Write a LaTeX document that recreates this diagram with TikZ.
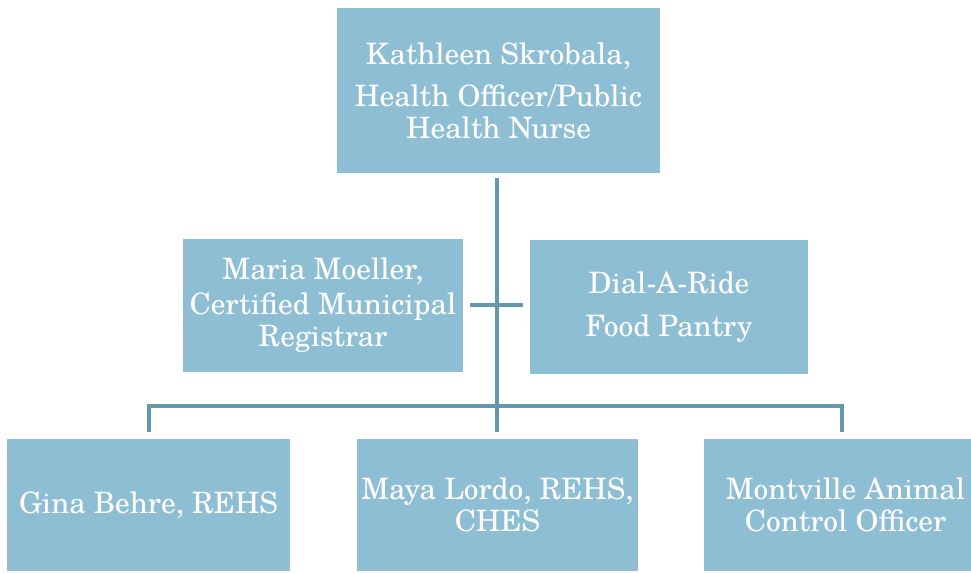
\documentclass[tikz,border=0pt]{standalone}
\usepackage{fontspec}
\setmainfont{TeX Gyre Schola}
\definecolor{boxblue}{RGB}{142,190,211}
\definecolor{lineblue}{RGB}{100,152,172}
\begin{document}
\begin{tikzpicture}[x=1pt,y=-1pt,
  orgbox/.style={fill=boxblue, draw=none, text=white, align=center, inner sep=0pt,
    font=\fontsize{29.5}{32}\selectfont},
  conn/.style={draw=lineblue, line width=4pt}]
\useasboundingbox (0,0) rectangle (971,573);
\clip (0,0) rectangle (971,573);
\node[orgbox, minimum width=323pt, minimum height=165pt] (top) at (498.5,90.5)
  {Kathleen Skrobala,\\[10pt]Health Officer/Public\\Health Nurse};
\node[orgbox, minimum width=280pt, minimum height=133pt] (maria) at (323,305.5)
  {Maria Moeller,\\[3pt]Certified Municipal\\Registrar};
\node[orgbox, minimum width=278pt, minimum height=134pt] (dial) at (669,307)
  {Dial-A-Ride\\[11pt]Food Pantry};
\node[orgbox, minimum width=283pt, minimum height=132pt] (gina) at (148.5,505)
  {Gina Behre, REHS};
\node[orgbox, minimum width=281pt, minimum height=132pt] (maya) at (497.5,505)
  {Maya Lordo, REHS,\\CHES};
\node[orgbox, minimum width=283pt, minimum height=132pt] (mont) at (845.5,505)
  {Montville Animal\\Control Officer};
\coordinate (vtop) at (497,178);
\coordinate (busL) at (149,406);
\coordinate (busR) at (842,406);
\coordinate (dropL) at (149,432);
\coordinate (dropM) at (497,432);
\coordinate (dropR) at (842,432);
\coordinate (crossL) at (470,305);
\coordinate (crossR) at (523,305);
\draw[conn] (vtop) -- (dropM);
\draw[conn] (crossL) -- (crossR);
\draw[conn] (dropL) -- (busL) -- (busR) -- (dropR);
\end{tikzpicture}
\end{document}
